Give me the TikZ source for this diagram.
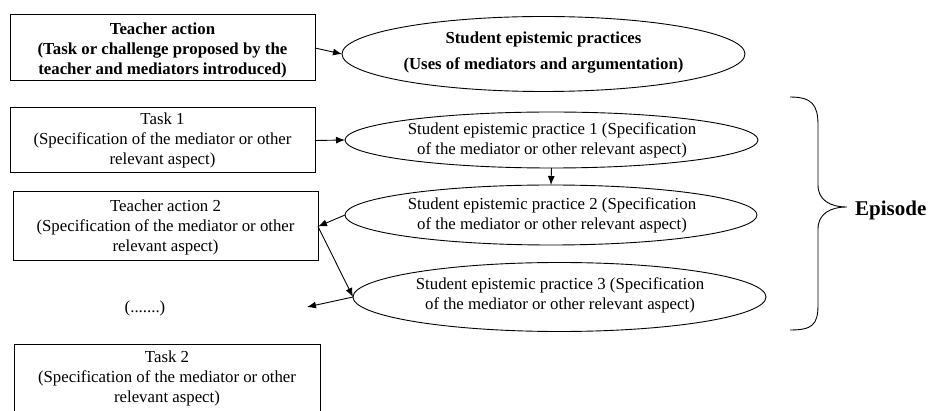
\documentclass[tikz,border=0pt]{standalone}
\usepackage{fontspec}
\setmainfont{Liberation Serif}
\usetikzlibrary{arrows.meta,shapes.geometric}
\begin{document}
\begin{tikzpicture}[x=1pt,y=-1pt,
  box/.style={draw,line width=1pt,rectangle,inner sep=0pt,outer sep=0pt},
  ell/.style={draw,line width=0.9pt,ellipse,inner sep=0pt,outer sep=0pt},
  txt/.style={align=center,inner sep=0pt,font=\fontsize{16.8}{20}\selectfont},
  btxt/.style={align=center,inner sep=0pt,font=\fontsize{16.8}{20}\selectfont\bfseries},
  arr/.style={line width=0.9pt,-{Latex[length=9pt,width=7pt]}}]
\clip (0,0) rectangle (929,411);
% boxes
\node[box,minimum width=305pt,minimum height=66pt] (b1) at (162.5,48) {};
\node[btxt] (b1t) at (162.5,50) {Teacher action\\(Task or challenge proposed by the\\teacher and mediators introduced)};
\node[box,minimum width=305pt,minimum height=65pt] (t1) at (162.5,140.5) {};
\node[txt] (t1t) at (162.5,140) {Task 1\\(Specification of the mediator or other\\relevant aspect)};
\node[box,minimum width=305pt,minimum height=69pt] (ta2) at (165.5,226.5) {};
\node[txt] (ta2t) at (165.5,227) {Teacher action 2\\(Specification of the mediator or other\\relevant aspect)};
\node[box,minimum width=306pt,minimum height=80pt] (t2) at (167,385) {};
\node[txt] (t2t) at (167,378) {Task 2\\(Specification of the mediator or other\\relevant aspect)};
\node[txt] (dots) at (145,308) {(.......)};
\coordinate (dend) at (307,307);
% ellipses
\node[ell,minimum width=403pt,minimum height=75pt] (e0) at (543.5,54) {};
\node[btxt,font=\fontsize{16.8}{26}\selectfont\bfseries] (e0t) at (543.5,53) {Student epistemic practices\\(Uses of mediators and argumentation)};
\node[ell,minimum width=413pt,minimum height=56pt] (e1) at (551.5,140) {};
\node[txt] (e1t) at (552,140) {Student epistemic practice 1 (Specification\\of the mediator or other relevant aspect)};
\node[ell,minimum width=412pt,minimum height=60pt] (e2) at (551,215) {};
\node[txt] (e2t) at (552,215) {Student epistemic practice 2 (Specification\\of the mediator or other relevant aspect)};
\node[ell,minimum width=413pt,minimum height=69pt] (e3) at (559.5,297) {};
\node[txt] (e3t) at (560,295) {Student epistemic practice 3 (Specification\\of the mediator or other relevant aspect)};
% arrows
\draw[arr] (b1.east) -- (e0.west);
\draw[arr] (t1.east) -- (e1.west);
\draw[arr] (e1.south) -- (e2.north);
\draw[arr] (e2.west) -- (ta2.east);
\draw[arr] (ta2.east) -- (e3.west);
\draw[arr] (e3.west) -- (dend);
% brace
\draw[line width=0.9pt] (790,97) .. controls (812,97) and (818,105) .. (818,125) -- (818,185)
  .. controls (818,200) and (830,207) .. (847,207)
  .. controls (830,207) and (818,214) .. (818,229) -- (818,305)
  .. controls (818,325) and (812,330) .. (790,330);
\node[inner sep=0pt,anchor=west,font=\fontsize{21}{24}\selectfont\bfseries] (ep) at (855,210) {Episode};
\end{tikzpicture}
\end{document}
